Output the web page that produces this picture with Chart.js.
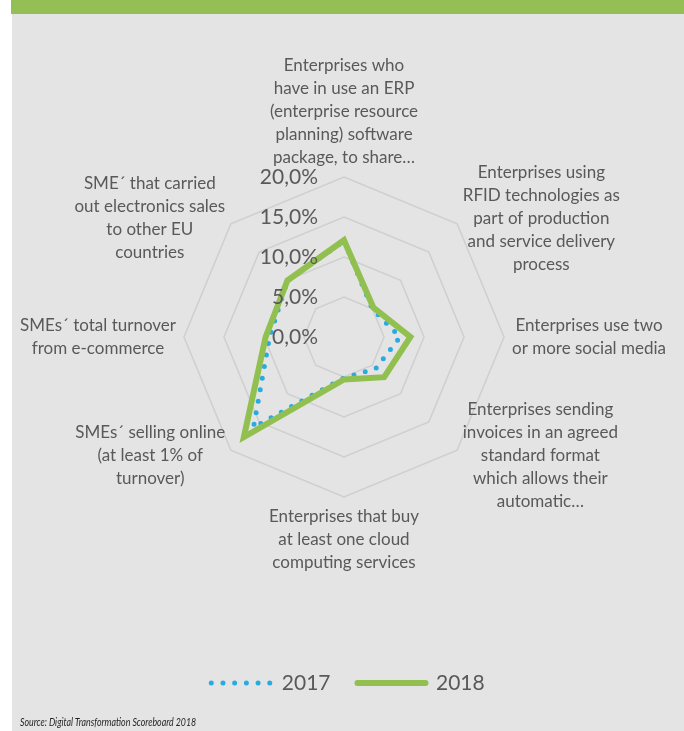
<!DOCTYPE html>
<html>
<head>
<meta charset="utf-8">
<script src="https://cdn.jsdelivr.net/npm/chart.js@4/dist/chart.umd.min.js"></script>
<style>
  html, body { margin: 0; padding: 0; background: #ffffff; }
  #wrap { position: relative; width: 684px; height: 731px; overflow: hidden; }
  #bar { position: absolute; left: 11px; top: 0; width: 673px; height: 14px; background: #93bf55; }
  #panel { position: absolute; left: 12px; top: 14px; width: 672px; height: 717px; background: #e4e4e4; }
  #chart { position: absolute; left: 0; top: 0; }
  #source { position: absolute; left: 20px; top: 716px; font: italic 10.5px Lato, sans-serif; color: #1f1f1f; white-space: nowrap; transform: scaleX(0.84); transform-origin: 0 50%; }
</style>
</head>
<body>
<div id="wrap">
  <div id="bar"></div>
  <div id="panel"></div>
  <canvas id="chart" width="684" height="731" style="width:684px;height:731px"></canvas>
  <div id="source">Source: Digital Transformation Scoreboard 2018</div>
</div>
<script>
// Axis categories (one entry per spoke, split into display lines)
const categories = [
  ['Enterprises who', 'have in use an ERP', '(enterprise resource', 'planning) software', 'package, to share…'],
  ['Enterprises using', 'RFID technologies as', 'part of production', 'and service delivery', 'process'],
  ['Enterprises use two', 'or more social media'],
  ['Enterprises sending', 'invoices in an agreed', 'standard format', 'which allows their', 'automatic…'],
  ['Enterprises that buy', 'at least one cloud', 'computing services'],
  ['SMEs´ selling online', '(at least 1% of', 'turnover)'],
  ['SMEs´ total turnover', 'from e-commerce'],
  ['SME´ that carried', 'out electronics sales', 'to other EU', 'countries']
];

// Shares in percent
const values2017 = [12.0, 5.0, 7.0, 5.6, 5.1, 16.0, 9.3, 10.0];
const values2018 = [12.1, 5.2, 8.3, 7.1, 5.3, 17.7, 9.8, 10.0];

// Radial axis ticks
const tickValues = [0, 5, 10, 15, 20];
const tickLabels = ['0,0%', '5,0%', '10,0%', '15,0%', '20,0%'];

const TEXT_COLOR = '#595959';
const LABEL_FONT = 'Lato, "Open Sans", sans-serif';

// Tick labels sit left of the vertical spoke; category labels are centred blocks
const radarText = {
  id: 'radarText',
  afterDatasetsDraw(chart) {
    const r = chart.scales.r;
    const ctx = chart.ctx;
    ctx.save();
    ctx.fillStyle = TEXT_COLOR;

    ctx.font = '21px ' + LABEL_FONT;
    ctx.textAlign = 'right';
    ctx.textBaseline = 'middle';
    tickValues.forEach((v, i) => {
      const d = r.getDistanceFromCenterForValue(v);
      ctx.fillText(tickLabels[i], r.xCenter - 26, r.yCenter - d);
    });

    ctx.font = '17px ' + LABEL_FONT;
    ctx.textAlign = 'center';
    const lh = 23;
    categories.forEach((lines, i) => {
      const p = r.getPointPosition(i, r.drawingArea + 8);
      const w = Math.max(...lines.map(l => ctx.measureText(l).width));
      const h = lines.length * lh;
      const dx = p.x - r.xCenter;
      const dy = p.y - r.yCenter;
      let cx, top;
      if (Math.abs(dx) < 1) {
        cx = p.x;
        top = dy < 0 ? p.y - h : p.y;
      } else {
        cx = dx > 0 ? p.x + w / 2 : p.x - w / 2;
        top = p.y - h / 2;
      }
      lines.forEach((l, k) => ctx.fillText(l, cx, top + lh * (k + 0.5)));
    });
    ctx.restore();
  }
};

new Chart(document.getElementById('chart'), {
  type: 'radar',
  data: {
    labels: categories,
    datasets: [
      {
        label: '2017',
        data: values2017,
        order: 1,
        fill: false,
        borderColor: '#29abe2',
        backgroundColor: '#29abe2',
        borderWidth: 5,
        borderDash: [0, 11.7],
        borderCapStyle: 'round',
        borderJoinStyle: 'round',
        pointRadius: 0,
        pointHoverRadius: 0,
        tension: 0
      },
      {
        label: '2018',
        data: values2018,
        order: 0,
        fill: false,
        borderColor: '#92c050',
        backgroundColor: '#92c050',
        borderWidth: 6,
        borderCapStyle: 'round',
        borderJoinStyle: 'miter',
        pointRadius: 0,
        pointHoverRadius: 0,
        tension: 0
      }
    ]
  },
  options: {
    responsive: false,
    animation: false,
    devicePixelRatio: 1,
    layout: { padding: { top: 177, left: 4, right: 0, bottom: 27.5 } },
    scales: {
      r: {
        min: 0,
        max: 20,
        ticks: { stepSize: 5, display: false },
        grid: { color: '#cfcfcf', lineWidth: 1.5 },
        angleLines: { display: false },
        pointLabels: { display: false }
      }
    },
    plugins: {
      tooltip: { enabled: false },
      // empty spacer between the plot and the legend row
      subtitle: {
        display: true,
        position: 'bottom',
        weight: 500,
        text: '',
        font: { size: 10 },
        padding: { top: 0, bottom: 136.5 }
      },
      legend: {
        position: 'bottom',
        reverse: true,
        labels: {
          usePointStyle: true,
          pointStyle: 'line',
          pointStyleWidth: 68,
          padding: 27,
          color: TEXT_COLOR,
          font: { size: 21, family: LABEL_FONT },
          generateLabels(chart) {
            const items = Chart.defaults.plugins.legend.labels.generateLabels(chart);
            items.forEach(it => {
              const ds = chart.data.datasets[it.datasetIndex];
              it.pointStyle = 'line';
              it.strokeStyle = ds.borderColor;
              it.lineWidth = ds.borderWidth;
              it.lineDash = ds.borderDash || [];
              // centre the dotted sample within its slot
              it.lineDashOffset = ds.borderDash ? 3.7 : 0;
              it.lineCap = 'round';
            });
            return items;
          }
        }
      }
    }
  },
  plugins: [radarText]
});
</script>
</body>
</html>
